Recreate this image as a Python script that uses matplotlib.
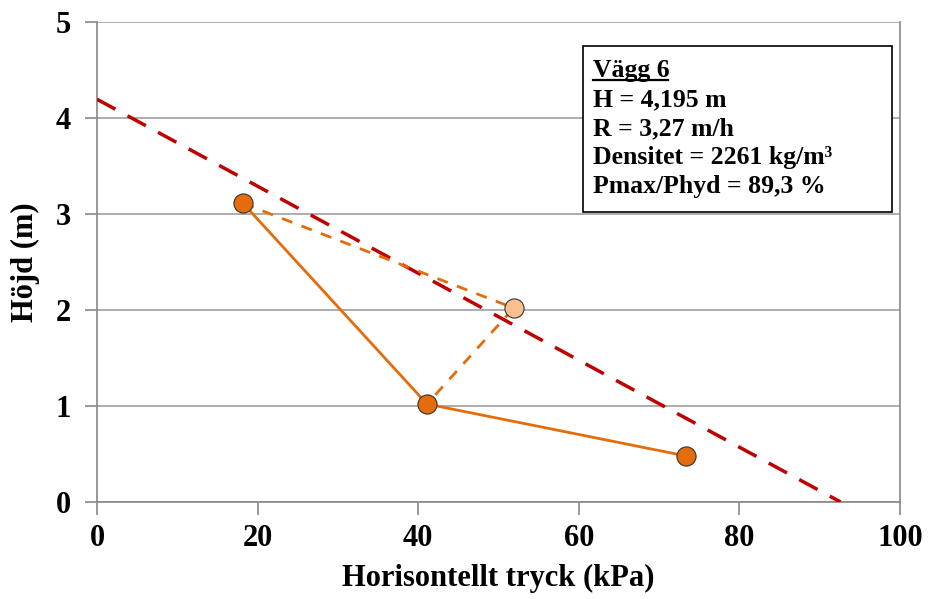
import matplotlib.pyplot as plt
from matplotlib.patches import Rectangle

# measured pressures (kPa) vs height (m)
tryck = [18.2, 41.1, 73.3]
hojd = [3.11, 1.02, 0.48]

# estimated point and its connections
tryck_est = [18.2, 51.9, 41.1]
hojd_est = [3.11, 2.02, 1.02]

# hydrostatic pressure line
tryck_hyd = [0, 92.6]
hojd_hyd = [4.195, 0]

info = ["Vägg 6", "H = 4,195 m", "R = 3,27 m/h",
        "Densitet = 2261 kg/m³", "Pmax/Phyd = 89,3 %"]

xticks = [0, 20, 40, 60, 80, 100]
yticks = [0, 1, 2, 3, 4, 5]

plt.rcParams['font.family'] = ['Liberation Serif', 'DejaVu Serif']
plt.rcParams['font.weight'] = 'bold'

fig = plt.figure(figsize=(9.3, 5.99), dpi=100)
ax = fig.add_axes([0.1043, 0.162, 0.8634, 0.8013])

orange = '#E46C0A'
ax.plot(tryck_hyd, hojd_hyd, color='#C00000', lw=2.5, dashes=(6, 4), zorder=3)
ax.plot(tryck_est, hojd_est, color=orange, lw=2, dashes=(4, 3.5), zorder=4)
ax.plot(tryck, hojd, color=orange, lw=2, zorder=4)
ax.scatter(tryck, hojd, s=190, color=orange, edgecolor='#333333', lw=0.8, zorder=5)
ax.scatter([tryck_est[1]], [hojd_est[1]], s=190, color='#FAC090',
           edgecolor='#333333', lw=0.8, zorder=5)

ax.set_xlim(0, 100)
ax.set_ylim(0, 5)
ax.set_xticks(xticks)
ax.set_yticks(yticks)
ax.yaxis.grid(True, color='#A6A6A6', lw=1.3)
ax.set_axisbelow(True)
for side in ['left', 'bottom', 'right']:
    ax.spines[side].set_color('#888888')
    ax.spines[side].set_linewidth(1.2)
ax.spines['top'].set_visible(False)
ax.tick_params(axis='both', direction='out', length=9, width=1.2,
               color='#888888', labelsize=22)
ax.tick_params(axis='y', pad=10)
ax.tick_params(axis='x', pad=7)

ax.set_xlabel('Horisontellt tryck (kPa)', fontsize=22, fontweight='bold', labelpad=8)
ax.set_ylabel('Höjd (m)', fontsize=22, fontweight='bold')
ax.yaxis.set_label_coords(-0.071, 0.5)

# info box, placed in pixel coords (top-left origin) converted to figure coords
H = 599
box = Rectangle((583 / 930, (H - 212) / H), 309 / 930, 166 / H,
                transform=fig.transFigure, facecolor='white',
                edgecolor='black', lw=1.2, zorder=6)
fig.add_artist(box)
baselines = [77, 106, 135, 164, 193]
for txt, yb in zip(info, baselines):
    fig.text(593 / 930, (H - yb) / H, txt, fontsize=18.5, fontweight='bold',
             va='baseline', ha='left', zorder=7)
# underline the title
fig.add_artist(plt.Line2D([593 / 930, 668 / 930], [(H - 80) / H] * 2,
                          transform=fig.transFigure, color='black', lw=1.6, zorder=7))

fig.savefig('out.png', dpi=100)
